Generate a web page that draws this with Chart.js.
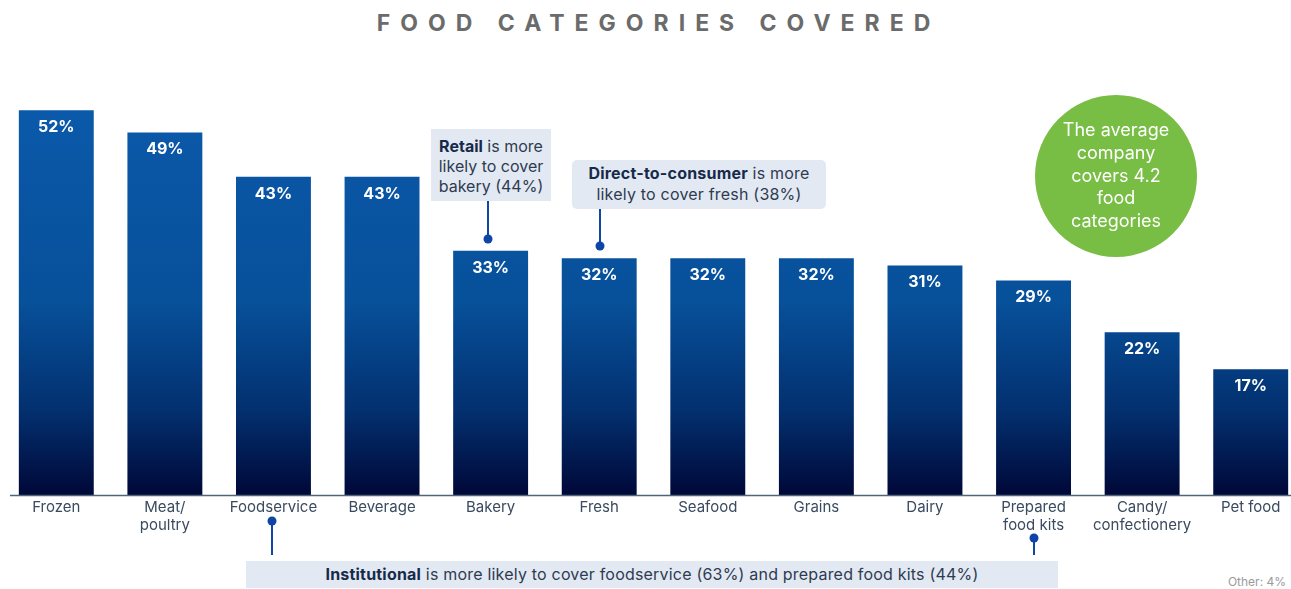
<!DOCTYPE html>
<html>
<head>
<meta charset="utf-8">
<script src="https://cdn.jsdelivr.net/npm/chart.js@4.4.1/dist/chart.umd.min.js"></script>
<style>
    body { margin: 0; width: 1291px; height: 589px; overflow: hidden; background: #fff; font-family: Inter, "Open Sans", sans-serif; position: relative; }
    .title { position: absolute; top: 9px; left: 13px; width: 1291px; text-align: center; font-size: 23px; font-weight: 700; letter-spacing: 10px; color: #6b6b6b; }
    .wrap { position: absolute; left: 0; top: 0; width: 1305px; height: 555px; }
    .note { position: absolute; background: #e3e9f3; color: #2e3b50; font-size: 16px; letter-spacing: 0.2px; text-align: center; box-sizing: border-box; }
    .note b { color: #172a4a; }
    .bubble { position: absolute; left: 1035px; top: 95px; width: 162px; height: 162px; border-radius: 50%; background: #78bd44; color: #fff; font-size: 18px; line-height: 22.7px; text-align: center; display: flex; align-items: center; justify-content: center; }
    .other { position: absolute; right: 5px; top: 574px; font-size: 12px; color: #9a9a9a; }
</style>
</head>
<body>
<div class="title">FOOD CATEGORIES COVERED</div>
<div class="wrap"><canvas id="chart"></canvas></div>

<div class="note" style="left:431px; top:129px; width:120px; height:72px; padding-top:7px; line-height:20px; letter-spacing:0;"><b>Retail</b> is more<br>likely to cover<br>bakery (44%)</div>
<div class="note" style="left:572px; top:160px; width:254px; height:49px; border-radius:5px; padding-top:3px; line-height:21px;"><b>Direct-to-consumer</b> is more<br>likely to cover fresh (38%)</div>
<div class="note" style="left:246px; top:561px; width:812px; height:27px; line-height:27px;"><b>Institutional</b> is more likely to cover foodservice (63%) and prepared food kits (44%)</div>

<div class="bubble"><div>The average<br>company<br>covers 4.2<br>food<br>categories</div></div>
<div class="other">Other: 4%</div>

<script>
const categories = ["Frozen", ["Meat/", "poultry"], "Foodservice", "Beverage", "Bakery", "Fresh",
    "Seafood", "Grains", "Dairy", ["Prepared", "food kits"], ["Candy/", "confectionery"], "Pet food"];
const shares = [52, 49, 43, 43, 33, 32, 32, 32, 31, 29, 22, 17];

// connectors: category index, line top/bottom, dot position, x nudge
const pointers = [
    { i: 4, y1: 201, y2: 239, dot: 239, dx: -3 },
    { i: 5, y1: 209, y2: 246, dot: 246, dx: 1 },
    { i: 2, y1: 521, y2: 561, dot: 521, dx: -1 },
    { i: 9, y1: 538, y2: 561, dot: 538, dx: 0 }
];

const extras = {
    id: "extras",
    afterDatasetsDraw(chart) {
        const { ctx, chartArea } = chart;
        const x = chart.scales.x;

        // baseline
        ctx.save();
        ctx.strokeStyle = "#4d6679";
        ctx.lineWidth = 1.5;
        ctx.beginPath();
        ctx.moveTo(10, chartArea.bottom + 0.5);
        ctx.lineTo(1291, chartArea.bottom + 0.5);
        ctx.stroke();

        // value labels inside bars
        ctx.fillStyle = "#fff";
        ctx.font = "700 16px Inter, sans-serif";
        ctx.textAlign = "center";
        ctx.textBaseline = "middle";
        chart.getDatasetMeta(0).data.forEach((bar, i) => {
            ctx.fillText(shares[i] + "%", bar.x, bar.y + 17);
        });

        // callout connectors
        ctx.strokeStyle = "#1046a8";
        ctx.fillStyle = "#0d44a6";
        ctx.lineWidth = 2;
        pointers.forEach(p => {
            const px = Math.round(x.getPixelForValue(p.i) + p.dx);
            ctx.beginPath();
            ctx.moveTo(px, p.y1);
            ctx.lineTo(px, p.y2);
            ctx.stroke();
            ctx.beginPath();
            ctx.arc(px, p.dot, 4.5, 0, Math.PI * 2);
            ctx.fill();
        });
        ctx.restore();
    }
};

new Chart(document.getElementById("chart"), {
    type: "bar",
    data: {
        labels: categories,
        datasets: [{
            data: shares,
            backgroundColor: ctx => {
                const area = ctx.chart.chartArea;
                if (!area) return "#0b58a9";
                const g = ctx.chart.ctx.createLinearGradient(0, 110, 0, area.bottom);
                g.addColorStop(0, "#0b59aa");
                g.addColorStop(0.5, "#07509a");
                g.addColorStop(0.78, "#03306f");
                g.addColorStop(1, "#000838");
                return g;
            },
            borderWidth: 0,
            categoryPercentage: 1,
            barPercentage: 0.69
        }]
    },
    options: {
        responsive: true, maintainAspectRatio: false, animation: false,
        layout: { padding: { left: 2, right: 0, top: 51, bottom: 0 } },
        plugins: { legend: { display: false }, tooltip: { enabled: false } },
        scales: {
            x: {
                grid: { display: false, drawTicks: false, tickLength: 0 }, border: { display: false },
                ticks: { color: "#3a4a5f", font: { size: 15, family: "Inter", lineHeight: 1.2 }, padding: 3, maxRotation: 0, autoSkip: false },
                afterFit: s => { s.height = 60; }
            },
            y: { display: false, min: 0, max: 60 }
        }
    },
    plugins: [extras]
});
</script>
</body>
</html>
